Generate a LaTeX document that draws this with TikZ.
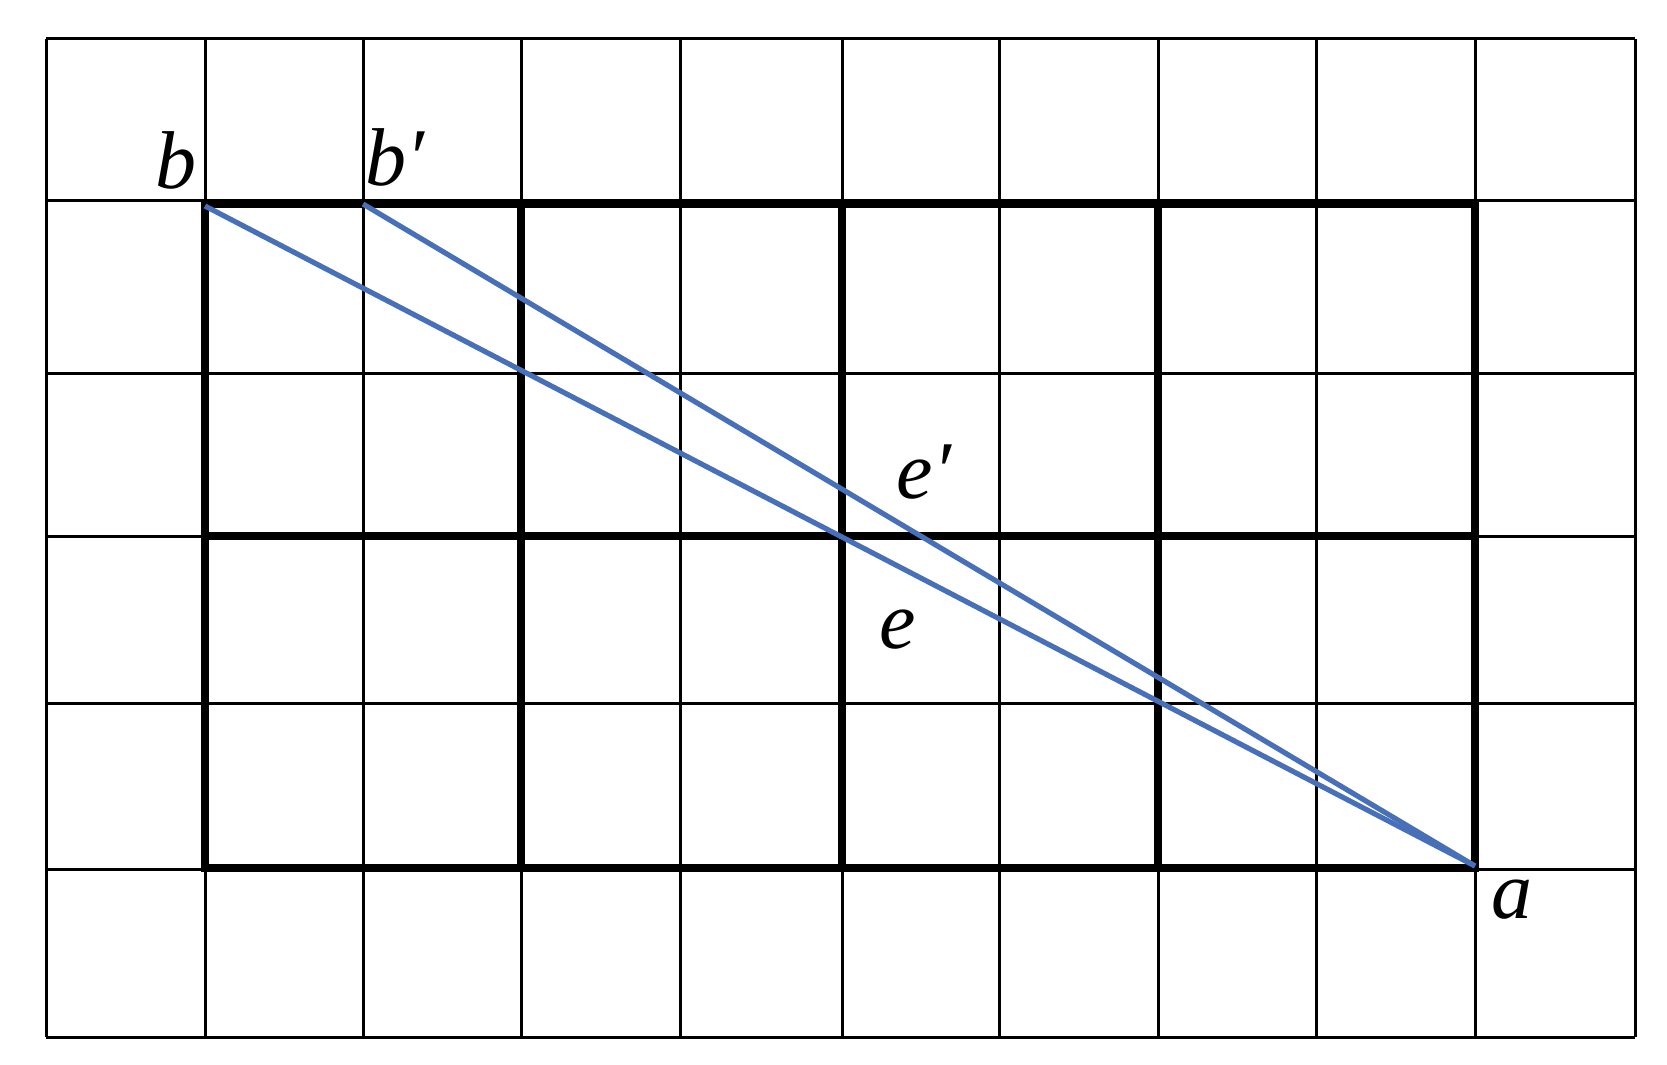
\documentclass[tikz,border=0pt]{standalone}
\usepackage{fontspec}
\setmainfont{Liberation Serif}
\definecolor{lineblue}{RGB}{72,112,184}
\begin{document}
\begin{tikzpicture}[x=0.5pt,y=-0.5pt,
  thin grid/.style={black,line width=1.5pt},
  thick grid/.style={black,line width=4.2pt,line cap=rect},
  blueline/.style={lineblue,line width=2.6pt},
  lbl/.style={inner sep=0pt,font=\fontsize{41}{46}\selectfont\itshape}]
\useasboundingbox (0,0) rectangle (1667,1065);
% thin grid
\foreach \x in {46,205,363,521,680,842,999,1158,1316,1475,1635}
  \draw[thin grid] (\x,39) -- (\x,1037);
\foreach \y in {39,201,373,536,703,869,1037}
  \draw[thin grid] (46,\y) -- (1635,\y);
% thick grid
\foreach \x in {205,521,842,1158,1475}
  \draw[thick grid] (\x,204) -- (\x,868);
\foreach \y in {204,536,868}
  \draw[thick grid] (205,\y) -- (1475,\y);
% points
\coordinate (a) at (1475,866);
\coordinate (b) at (205,206);
\coordinate (bp) at (363,204);
\draw[blueline] (b) -- (a);
\draw[blueline] (bp) -- (a);
% labels
\node[lbl] (lb) at (176,160) {b};
\node[lbl] (lbp) at (395,157) {b′};
\node[lbl] (lep) at (924,472) {e′};
\node[lbl] (le) at (898,630) {e};
\node[lbl] (la) at (1512,900) {a};
\end{tikzpicture}
\end{document}
